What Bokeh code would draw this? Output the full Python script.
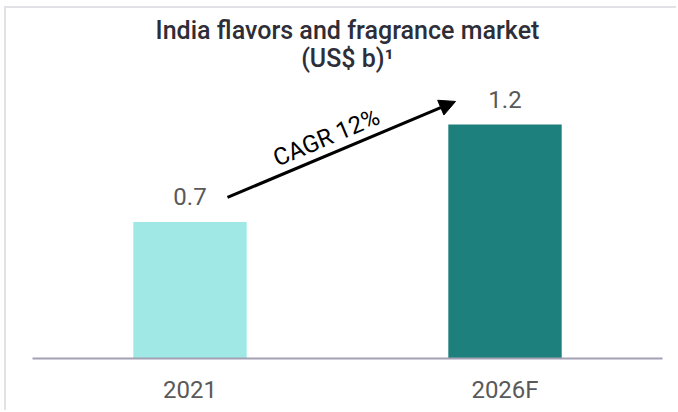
from bokeh.plotting import figure
from bokeh.models import ColumnDataSource, FactorRange, Range1d, Title, Arrow, NormalHead
from bokeh.core.properties import value
from bokeh.embed import file_html
from bokeh.resources import INLINE
import math

# ---- data ----
categories = ["2021", "2026F"]
market_values = [0.7, 1.2]
value_labels = ["0.7", "1.2"]
bar_colors = ["#A0E8E6", "#1E807C"]
cagr_label = "CAGR 12%"
title_main = "India flavors and fragrance market"
title_sub = "(US$ b)\u00b9"

FONT = "Roboto"
TITLE_FONT = "Roboto Medium"

source = ColumnDataSource(dict(cat=categories, val=market_values,
                               lab=value_labels, color=bar_colors))

p = figure(x_range=FactorRange(factors=categories, range_padding=0),
           y_range=Range1d(0, 1.610),
           width=672, height=404,
           output_backend="svg", toolbar_location=None,
           y_axis_location=None,
           min_border_left=26, min_border_right=16,
           min_border_top=36, min_border_bottom=54,
           background_fill_color="white", border_fill_color="white")
p.outline_line_color = None
p.grid.visible = False
p.styles = {"border-left": "2px solid #E1E1E6", "border-top": "2px solid #E1E1E6",
            "margin-left": "4px", "margin-top": "6px"}

# main title above the frame
p.add_layout(Title(text=title_main, align="center", text_font=TITLE_FONT,
                   text_font_size="25px", text_font_style="normal",
                   text_color="#2E2E38", standoff=0), "above")
# unit line just below it, centred between the two categories
p.text(x=[1.0], y=[1.538], text=[title_sub],
       text_font=value(TITLE_FONT), text_font_size="25px", text_color="#2E2E38",
       text_align="center", text_baseline="middle")

# bars
p.vbar(x="cat", top="val", width=0.36, fill_color="color", line_color=None,
       source=source)

# value labels
p.text(x="cat", y="val", text="lab", source=source,
       text_font=value(FONT), text_font_size="24px", text_color="#595959",
       text_align="center", text_baseline="alphabetic", y_offset=-25)

# CAGR arrow
p.add_layout(Arrow(end=NormalHead(size=16, fill_color="black", line_color="black"),
                   x_start=0.619, y_start=0.826, x_end=1.343, y_end=1.318,
                   line_color="black", line_width=3))
p.text(x=[0.933], y=[1.133], text=[cagr_label], angle=math.atan2(96, 228),
       text_font=value(FONT), text_font_size="24px", text_color="black",
       text_align="center", text_baseline="middle")

# x axis
ax = p.xaxis[0]
ax.axis_line_color = "#A3A0B3"
ax.axis_line_width = 2
ax.major_tick_line_color = None
ax.minor_tick_line_color = None
ax.major_tick_out = 0
ax.major_label_standoff = 17
ax.major_label_text_font = FONT
ax.major_label_text_font_size = "24px"
ax.major_label_text_color = "#595959"

open("out.html", "w").write(file_html(p, INLINE))
